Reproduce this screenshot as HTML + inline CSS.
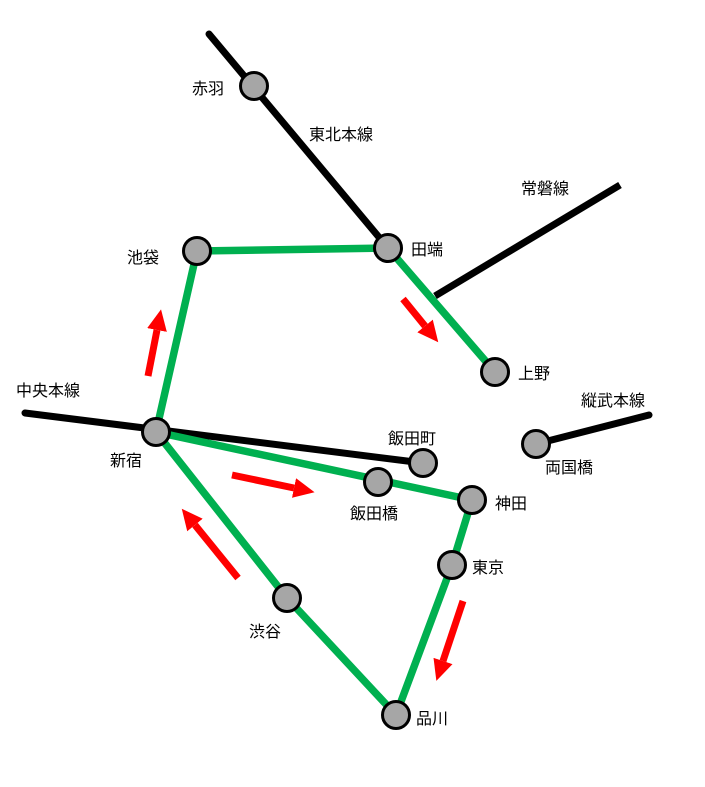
<!DOCTYPE html>
<html><head><meta charset="utf-8"><style>
html,body{margin:0;padding:0;background:#fff;}
svg{display:block;}
text{font-family:"Liberation Sans","Noto Sans CJK JP",sans-serif;font-size:16px;fill:#000;}
</style></head><body>
<svg width="705" height="787" viewBox="0 0 705 787" xmlns="http://www.w3.org/2000/svg">
<defs>
<marker id="ah" markerUnits="userSpaceOnUse" markerWidth="22" markerHeight="20" refX="0" refY="10" orient="auto" viewBox="0 0 22 20">
<path d="M0,0 L21,10 L0,20 Z" fill="#f00"/>
</marker>
</defs>
<g stroke="#000" stroke-width="7" stroke-linecap="round" fill="none">
<line x1="209" y1="34" x2="388" y2="248"/>
<line x1="620" y1="185" x2="435" y2="296" stroke-linecap="butt"/>
<line x1="25" y1="413" x2="423" y2="463"/>
<line x1="536" y1="444" x2="649" y2="415"/>
</g>
<g stroke="#00b050" stroke-width="7.5" fill="none" stroke-linejoin="round">
<polyline points="156,432 197,251 388,248 495,372"/>
<polyline points="156,432 472,500 452,565 396,715 287,598 156,432"/>
</g>
<g fill="#a6a6a6" stroke="#000" stroke-width="3">
<circle cx="254" cy="86" r="13.5"/>
<circle cx="197" cy="251" r="13.5"/>
<circle cx="388" cy="248" r="13.5"/>
<circle cx="495" cy="372" r="13.5"/>
<circle cx="156" cy="432" r="13.5"/>
<circle cx="423" cy="463" r="13.5"/>
<circle cx="378" cy="482" r="13.5"/>
<circle cx="472" cy="500" r="13.5"/>
<circle cx="536" cy="444" r="13.5"/>
<circle cx="452" cy="565" r="13.5"/>
<circle cx="287" cy="598" r="13.5"/>
<circle cx="396" cy="715" r="13.5"/>
</g>
<g stroke="#f00" stroke-width="7" marker-end="url(#ah)">
<line x1="148" y1="376" x2="157" y2="330"/>
<line x1="403" y1="299" x2="425" y2="326"/>
<line x1="232" y1="475" x2="294" y2="488"/>
<line x1="238" y1="578" x2="195" y2="525"/>
<line x1="463" y1="601" x2="443" y2="661"/>
</g>
<text x="192" y="94">赤羽</text>
<text x="309" y="140">東北本線</text>
<text x="521" y="194">常磐線</text>
<text x="127" y="263">池袋</text>
<text x="411" y="255">田端</text>
<text x="518" y="379">上野</text>
<text x="16" y="396">中央本線</text>
<text x="581" y="406">縦武本線</text>
<text x="388" y="444">飯田町</text>
<text x="545" y="473">両国橋</text>
<text x="110" y="466">新宿</text>
<text x="350" y="519">飯田橋</text>
<text x="495" y="509">神田</text>
<text x="472" y="573">東京</text>
<text x="249" y="637">渋谷</text>
<text x="416" y="724">品川</text>
</svg>
</body></html>
